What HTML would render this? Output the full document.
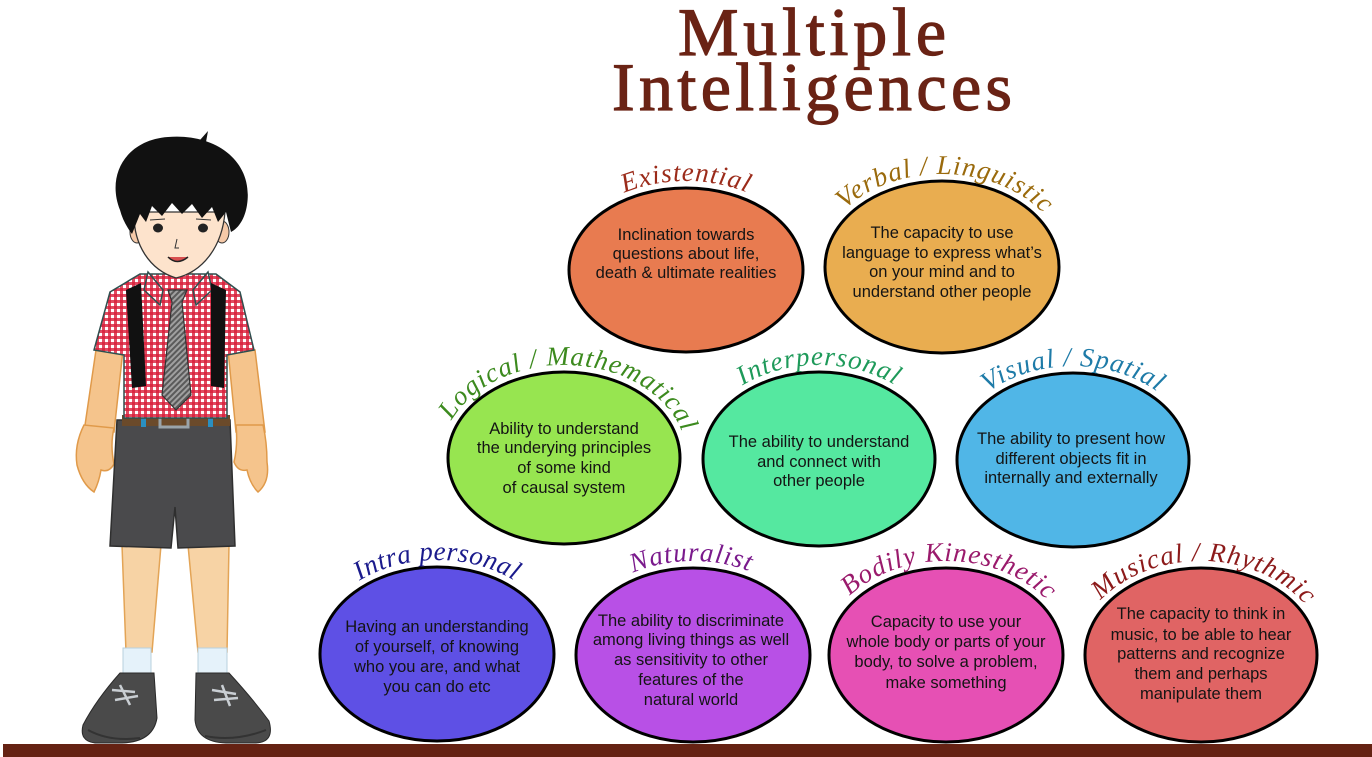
<!DOCTYPE html>
<html>
<head>
<meta charset="utf-8">
<style>
  html,body{margin:0;padding:0;background:#fff;}
  svg{display:block;}
  .body{font-family:"Liberation Sans",Arial,sans-serif;font-size:16.5px;fill:#141414;text-anchor:middle;}
  .lbl{font-family:"Liberation Serif",serif;font-style:italic;font-size:27px;letter-spacing:1px;text-anchor:middle;}
  .title{font-family:"Liberation Serif",serif;font-weight:normal;font-size:68px;fill:#6A2315;stroke:#6A2315;stroke-width:1.2;text-anchor:middle;}
</style>
</head>
<body>
<svg width="1372" height="757" viewBox="0 0 1372 757" xmlns="http://www.w3.org/2000/svg">
  <defs>
    <pattern id="ging" width="6" height="6" patternUnits="userSpaceOnUse">
      <rect width="6" height="6" fill="#fff"/>
      <rect width="6" height="3" fill="#D81E3A" opacity="0.8"/>
      <rect width="3" height="6" fill="#D81E3A" opacity="0.8"/>
    </pattern>
    <pattern id="tie" width="4" height="4" patternUnits="userSpaceOnUse" patternTransform="rotate(45)">
      <rect width="4" height="4" fill="#a0a0a0"/>
      <rect width="2" height="4" fill="#5a5a5a"/>
    </pattern>
    <path id="p1" d="M 562 270 A 124 89 0 0 1 810 270"/>
    <path id="p2" d="M 818 267 A 124 93 0 0 1 1066 267"/>
    <path id="p3" d="M 441 458 A 123 93 0 0 1 687 458"/>
    <path id="p4" d="M 696 459 A 123 94 0 0 1 942 459"/>
    <path id="p5" d="M 950 460 A 123 94 0 0 1 1196 460"/>
    <path id="p6" d="M 313 654 A 124 94 0 0 1 561 654"/>
    <path id="p7" d="M 569 655 A 124 94 0 0 1 817 655"/>
    <path id="p8" d="M 822 655 A 124 94 0 0 1 1070 655"/>
    <path id="p9" d="M 1078 655 A 123 94 0 0 1 1324 655"/>
  </defs>

  <!-- Title -->
  <text class="title" x="812" y="55" textLength="268" lengthAdjust="spacing">Multiple</text>
  <text class="title" x="812" y="110" textLength="400" lengthAdjust="spacing">Intelligences</text>

  <!-- Ellipses -->
  <g stroke="#000" stroke-width="3">
    <ellipse cx="686" cy="270" rx="117" ry="82" fill="#E87B50"/>
    <ellipse cx="942" cy="267" rx="117" ry="86" fill="#E9AD50"/>
    <ellipse cx="564" cy="458" rx="116" ry="86" fill="#97E550"/>
    <ellipse cx="819" cy="459" rx="116" ry="87" fill="#55E8A0"/>
    <ellipse cx="1073" cy="460" rx="116" ry="87" fill="#50B6E7"/>
    <ellipse cx="437" cy="654" rx="117" ry="87" fill="#5E50E5"/>
    <ellipse cx="693" cy="655" rx="117" ry="87" fill="#B850E6"/>
    <ellipse cx="946" cy="655" rx="117" ry="87" fill="#E650B4"/>
    <ellipse cx="1201" cy="655" rx="116" ry="87" fill="#E06464"/>
  </g>

  <!-- Curved labels -->
  <text class="lbl" fill="#9B2B1A"><textPath href="#p1" startOffset="50%">Existential</textPath></text>
  <text class="lbl" fill="#9A6A0C"><textPath href="#p2" startOffset="51%">Verbal / Linguistic</textPath></text>
  <text class="lbl" fill="#3C8A1E"><textPath href="#p3" startOffset="52%">Logical / Mathematical</textPath></text>
  <text class="lbl" fill="#1E9A5A"><textPath href="#p4" startOffset="50%">Interpersonal</textPath></text>
  <text class="lbl" fill="#1E7BA8"><textPath href="#p5" startOffset="50%">Visual / Spatial</textPath></text>
  <text class="lbl" fill="#1A1A8C" style="letter-spacing:0.5px"><textPath href="#p6" startOffset="50%">Intra personal</textPath></text>
  <text class="lbl" fill="#7A1A8C"><textPath href="#p7" startOffset="49.5%">Naturalist</textPath></text>
  <text class="lbl" fill="#9A1A6C"><textPath href="#p8" startOffset="51%">Bodily Kinesthetic</textPath></text>
  <text class="lbl" fill="#8C1A1A"><textPath href="#p9" startOffset="51%">Musical / Rhythmic</textPath></text>

  <!-- Body text -->
  <g class="body">
    <text x="686" y="240">Inclination towards</text>
    <text x="686" y="259">questions about life,</text>
    <text x="686" y="278">death &amp; ultimate realities</text>

    <text x="942" y="238">The capacity to use</text>
    <text x="942" y="258">language to express what’s</text>
    <text x="942" y="277">on your mind and to</text>
    <text x="942" y="297">understand other people</text>

    <text x="564" y="434">Ability to understand</text>
    <text x="564" y="453">the underying principles</text>
    <text x="564" y="473">of some kind</text>
    <text x="564" y="493">of causal system</text>

    <text x="819" y="447">The ability to understand</text>
    <text x="819" y="467">and connect with</text>
    <text x="819" y="486">other people</text>

    <text x="1071" y="444">The ability to present how</text>
    <text x="1071" y="464">different objects fit in</text>
    <text x="1071" y="483">internally and externally</text>

    <text x="437" y="632">Having an understanding</text>
    <text x="437" y="652">of yourself, of knowing</text>
    <text x="437" y="672">who you are, and what</text>
    <text x="437" y="692">you can do etc</text>

    <text x="691" y="626">The ability to discriminate</text>
    <text x="691" y="645">among living things as well</text>
    <text x="691" y="665">as sensitivity to other</text>
    <text x="691" y="685">features of the</text>
    <text x="691" y="705">natural world</text>

    <text x="946" y="627">Capacity to use your</text>
    <text x="946" y="647">whole body or parts of your</text>
    <text x="946" y="667">body, to solve a problem,</text>
    <text x="946" y="688">make something</text>

    <text x="1201" y="619">The capacity to think in</text>
    <text x="1201" y="640">music, to be able to hear</text>
    <text x="1201" y="659">patterns and recognize</text>
    <text x="1201" y="679">them and perhaps</text>
    <text x="1201" y="699">manipulate them</text>
  </g>

  <!-- Boy -->
  <g>
    <!-- arms -->
    <path d="M96 350 L123 350 L114 432 L84 432 Z" fill="#F5C48C" stroke="#E09A4A" stroke-width="1.5"/>
    <path d="M228 350 L255 350 L265 432 L236 432 Z" fill="#F5C48C" stroke="#E09A4A" stroke-width="1.5"/>
    <!-- hands -->
    <path d="M84 425 Q74 445 77 465 Q82 484 94 492 Q99 482 101 470 Q109 473 114 464 Q110 445 114 428 Z" fill="#F5C48C" stroke="#E09A4A" stroke-width="1.5"/>
    <path d="M236 425 Q238 445 234 462 Q238 472 247 470 Q250 484 258 492 Q270 482 267 462 Q267 442 263 425 Z" fill="#F5C48C" stroke="#E09A4A" stroke-width="1.5"/>
    <!-- legs -->
    <path d="M122 545 L161 545 L152 652 L126 652 Z" fill="#F7D3A5" stroke="#E3A456" stroke-width="1.5"/>
    <path d="M188 545 L229 545 L227 652 L198 652 Z" fill="#F7D3A5" stroke="#E3A456" stroke-width="1.5"/>
    <!-- socks -->
    <rect x="123" y="648" width="28" height="30" fill="#E5F2FA" stroke="#B8D0DE"/>
    <rect x="198" y="648" width="29" height="30" fill="#E5F2FA" stroke="#B8D0DE"/>
    <!-- shoes -->
    <path d="M120 673 L154 673 L157 718 Q153 742 122 743 L95 743 Q79 741 83 725 Q96 700 120 673 Z" fill="#4A4A4A" stroke="#2a2a2a" stroke-width="1"/>
    <path d="M196 673 L229 673 Q252 698 269 721 Q275 742 256 743 L226 743 Q197 742 195 720 Z" fill="#4A4A4A" stroke="#2a2a2a" stroke-width="1"/>
    <path d="M88 730 Q110 742 140 738" stroke="#333" stroke-width="2" fill="none"/>
    <path d="M205 736 Q235 742 266 730" stroke="#333" stroke-width="2" fill="none"/>
    <path d="M112 690 L135 692 M115 700 L138 696 M120 685 L130 705" stroke="#C9CED3" stroke-width="2.5" fill="none"/>
    <path d="M212 690 L236 694 M214 700 L238 698 M222 685 L230 706" stroke="#C9CED3" stroke-width="2.5" fill="none"/>
    <!-- shorts -->
    <path d="M117 420 L230 420 L235 546 L178 548 L175 507 L171 548 L110 546 Z" fill="#4A4A4C" stroke="#2f2f2f" stroke-width="1.5"/>
    <!-- belt -->
    <rect x="122" y="415" width="108" height="11" fill="#6B4A2A"/>
    <rect x="141" y="414" width="5" height="13" fill="#2A8FC0"/>
    <rect x="208" y="414" width="5" height="13" fill="#2A8FC0"/>
    <rect x="160" y="414" width="28" height="13" fill="none" stroke="#9AA4AA" stroke-width="3"/>
    <!-- neck -->
    <rect x="163" y="266" width="30" height="28" fill="#F7D0B0"/>
    <!-- shirt -->
    <path d="M140 274 L216 274 L240 292 L254 350 L227 355 L227 418 L124 418 L124 355 L94 350 L110 292 Z" fill="url(#ging)" stroke="#2F4F4F" stroke-width="1.5"/>
    <!-- collar -->
    <path d="M148 272 L163 290 L160 305 L144 290 Z" fill="url(#ging)" stroke="#2F4F4F" stroke-width="1.5"/>
    <path d="M208 272 L193 290 L196 305 L212 290 Z" fill="url(#ging)" stroke="#2F4F4F" stroke-width="1.5"/>
    <!-- straps -->
    <path d="M126 290 L141 283 L146 386 L132 388 Z" fill="#111"/>
    <path d="M211 283 L226 290 L224 388 L211 386 Z" fill="#111"/>
    <!-- tie -->
    <path d="M168 290 L187 290 L182 302 L191 395 L176 410 L162 395 L172 302 Z" fill="url(#tie)" stroke="#333" stroke-width="1.2"/>
    <!-- ears -->
    <ellipse cx="137" cy="232" rx="7" ry="11" fill="#F5C9A8" stroke="#333" stroke-width="1"/>
    <ellipse cx="222" cy="232" rx="7" ry="11" fill="#F5C9A8" stroke="#333" stroke-width="1"/>
    <!-- face -->
    <path d="M134 212 C133 245 150 270 176 278 C202 272 222 248 225 212 Z" fill="#FDE3CC" stroke="#333" stroke-width="1.3"/>
    <!-- hair -->
    <path d="M120 210 C106 175 126 140 168 137 C214 133 254 160 247 205 C245 218 239 228 231 232 L226 212 L218 222 L212 207 L202 218 L192 204 L182 214 L172 203 L162 216 L152 206 L146 222 L140 214 L132 234 C126 226 122 218 120 210 Z" fill="#111"/>
    <path d="M200 140 L208 131 L206 142 Z" fill="#111"/>
    <!-- eyes -->
    <ellipse cx="158" cy="228" rx="5" ry="4.5" fill="#222"/>
    <ellipse cx="203" cy="228" rx="5" ry="4.5" fill="#222"/>
    <path d="M150 220 L165 219 M196 219 L211 220" stroke="#333" stroke-width="1"/>
    <!-- nose & mouth -->
    <path d="M177 239 L175 248 L179 248" stroke="#333" stroke-width="1" fill="none"/>
    <path d="M168 257 Q177 266 188 257" stroke="#222" stroke-width="1.5" fill="#D85050"/>
  </g>

  <!-- Ground bar -->
  <rect x="3" y="744" width="1369" height="13" fill="#652213"/>
</svg>
</body>
</html>
